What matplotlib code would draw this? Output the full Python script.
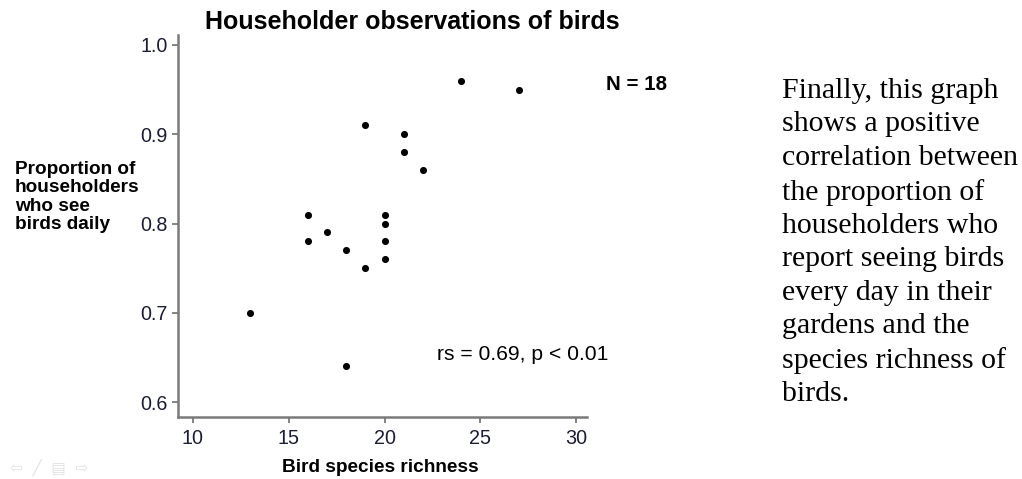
#!/usr/bin/env python3
"""Scatter of householder bird sightings against garden species richness."""
import matplotlib

matplotlib.use("Agg")
import matplotlib.pyplot as plt

# bird species richness per survey area and proportion seeing birds daily
richness = [13, 16, 16, 17, 18, 18, 19, 19, 20, 20, 20, 20, 21, 21, 22, 24, 27]
proportion = [0.70, 0.81, 0.78, 0.79, 0.77, 0.64, 0.91, 0.75,
              0.81, 0.80, 0.78, 0.76, 0.90, 0.88, 0.86, 0.96, 0.95]

x_ticks = [10, 15, 20, 25, 30]
y_ticks = [0.6, 0.7, 0.8, 0.9, 1.0]

title = "Householder observations of birds"
x_label = "Bird species richness"
y_label = "Proportion of\nhouseholders\nwho see\nbirds daily"
n_note = "N = 18"
stat_note = "rs = 0.69, p < 0.01"
caption = ("Finally, this graph\nshows a positive\ncorrelation between\n"
           "the proportion of\nhouseholders who\nreport seeing birds\n"
           "every day in their\ngardens and the\nspecies richness of\nbirds.")

SANS = "Liberation Sans"
SERIF = "Liberation Serif"
AXIS_GREY = "#7a7a7a"
TICK_TEXT = "#1c1c34"

W, H = 1022, 479
fig = plt.figure(figsize=(W / 100, H / 100), dpi=100)
fig.patch.set_facecolor("white")

ax = fig.add_axes([178 / W, 1 - 417 / H, (587 - 178) / W, (417 - 35) / H])
ax.scatter(richness, proportion, s=26, color="black", zorder=3, linewidths=0)

ax.set_xlim(9.22, 30.57)
ax.set_ylim(0.5832, 1.0112)
ax.set_xticks(x_ticks)
ax.set_yticks(y_ticks)
ax.set_yticklabels([f"{v:.1f}" for v in y_ticks])

for side in ("top", "right"):
    ax.spines[side].set_visible(False)
for side in ("left", "bottom"):
    ax.spines[side].set_color(AXIS_GREY)
    ax.spines[side].set_linewidth(1.8)

ax.tick_params(axis="both", direction="out", length=4.5, width=1.3,
               color=AXIS_GREY, labelcolor=TICK_TEXT, labelsize=14.2)
ax.tick_params(axis="x", pad=4)
ax.tick_params(axis="y", pad=3)
for lab in ax.get_xticklabels() + ax.get_yticklabels():
    lab.set_fontfamily(SANS)

fig.text(636 / W, 1 - 84 / H, n_note, ha="center", va="center",
         fontsize=14.8, fontweight="bold", family=SANS, color="black")
fig.text(523 / W, 1 - 355 / H, stat_note, ha="center", va="center",
         fontsize=15.2, family=SANS, color="black")

fig.text(412 / W, 1 - 22 / H, title, ha="center", va="center",
         fontsize=18, fontweight="bold", family=SANS, color="black")
fig.text(380 / W, 1 - 467 / H, x_label, ha="center", va="center",
         fontsize=13.7, fontweight="bold", family=SANS, color="black")
fig.text(15 / W, 1 - 197 / H, y_label, ha="left", va="center",
         multialignment="left", linespacing=1.1,
         fontsize=13.7, fontweight="bold", family=SANS, color="black")

fig.text(782 / W, 1 - 78 / H, caption, ha="left", va="top",
         multialignment="left", linespacing=1.37,
         fontsize=21.5, family=SERIF, color="black")

# faint slide navigation glyphs in the lower left corner
fig.text(10 / W, 1 - 468 / H, "\u21e6  \u2571  \u25a4  \u21e8", ha="left",
         va="center", fontsize=11, family="DejaVu Sans", color="#e2e2e2")

fig.savefig("out.png", dpi=100, facecolor="white")
plt.close(fig)
